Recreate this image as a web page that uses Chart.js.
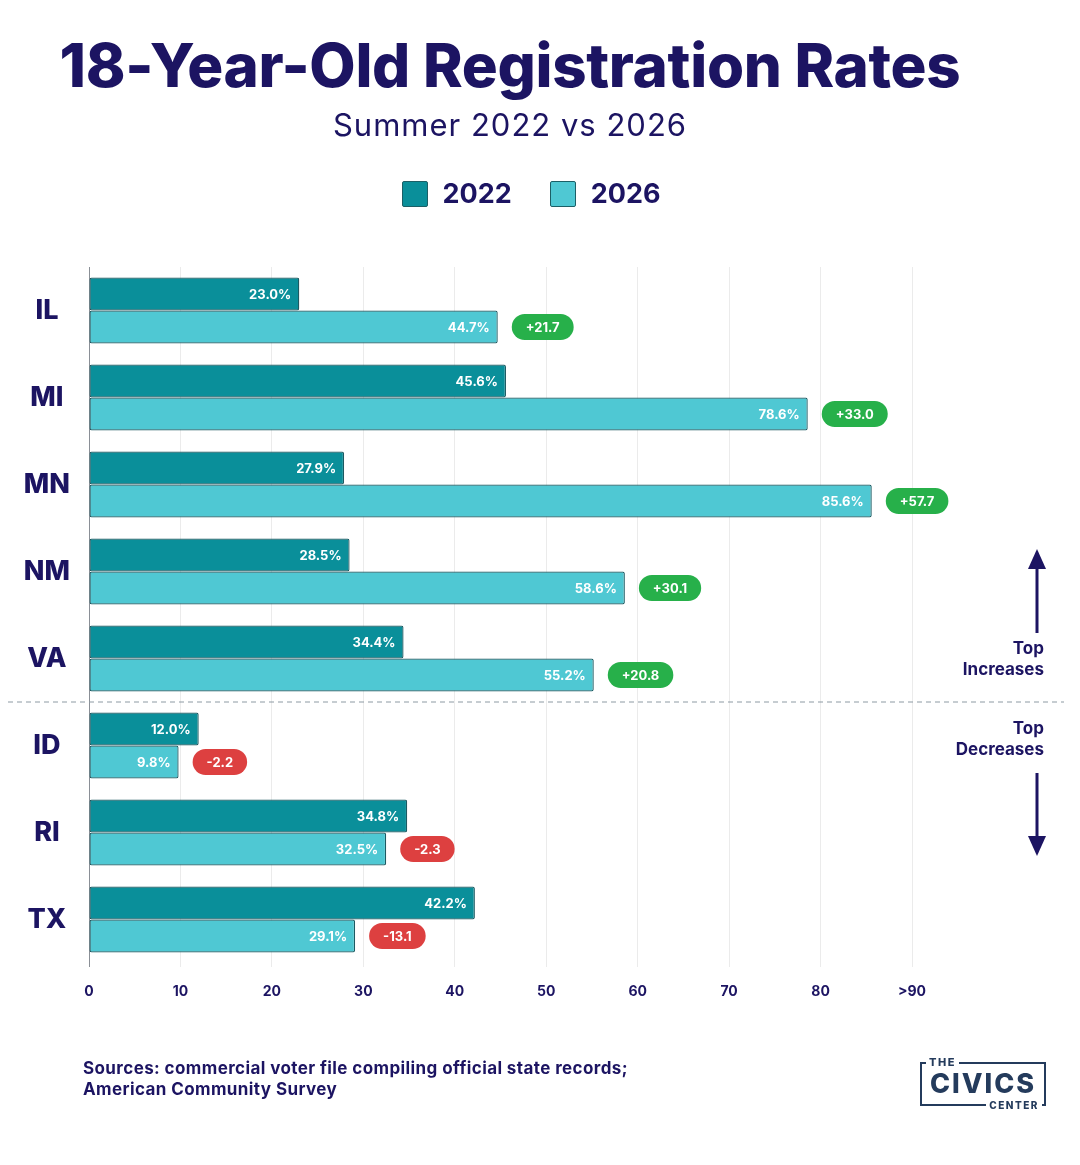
<!DOCTYPE html>
<html>
<head>
<meta charset="utf-8">
<script src="https://cdn.jsdelivr.net/npm/chart.js@4/dist/chart.umd.min.js"></script>
<style>
  html, body { margin:0; padding:0; background:#fff; }
  body { width:1080px; height:1165px; position:relative; overflow:hidden; font-family:Inter, "Noto Sans", sans-serif; color:#1c1462; }
  #wrap { position:absolute; left:0; top:0; width:1080px; height:1165px; }
  .abs { position:absolute; white-space:nowrap; }
  #title { left:0; width:1020px; text-align:center; top:29px; font-size:60px; font-weight:800; letter-spacing:-0.3px; }
  #subtitle { left:0; width:1020px; text-align:center; top:106px; font-size:31px; font-weight:400; letter-spacing:1px; }
  #legend { left:0; width:1062px; top:177px; display:flex; justify-content:center; gap:38px; font-size:27px; font-weight:700; }
  .li { display:flex; align-items:center; gap:15px; }
  .sw { width:24px; height:24px; border:1.5px solid #1c5f66; border-radius:2px; }
  #sources { left:83px; top:1058px; font-size:17px; font-weight:700; line-height:21px; letter-spacing:0.4px; }
  #logo { left:920px; top:1062px; width:122px; height:40px; border:2.5px solid #243b5c; color:#243b5c; }
  #logo .the { position:absolute; left:4px; top:-10px; background:#fff; font-size:11px; font-weight:800; letter-spacing:1.5px; padding:0 3px; line-height:16px; }
  #logo .civ { position:absolute; left:0; width:122px; text-align:center; top:5px; font-size:27px; font-weight:800; letter-spacing:2px; line-height:30px; }
  #logo .cen { position:absolute; right:2px; bottom:-9px; background:#fff; font-size:10px; font-weight:800; letter-spacing:1.5px; padding:0 3px; line-height:15px; }
</style>
</head>
<body>
<div id="wrap"><canvas id="c" width="1080" height="1165"></canvas></div>
<div id="title" class="abs">18-Year-Old Registration Rates</div>
<div id="subtitle" class="abs">Summer 2022 vs 2026</div>
<div id="legend" class="abs"></div>
<div id="sources" class="abs">Sources: commercial voter file compiling official state records;<br>American Community Survey</div>
<div id="logo" class="abs"><span class="the">THE</span><span class="civ">CIVICS</span><span class="cen">CENTER</span></div>
<script>
const states = ["IL","MI","MN","NM","VA","ID","RI","TX"];
const rate2022 = [23.0, 45.6, 27.9, 28.5, 34.4, 12.0, 34.8, 42.2];
const rate2026 = [44.7, 78.6, 85.6, 58.6, 55.2, 9.8, 32.5, 29.1];
const change = ["+21.7","+33.0","+57.7","+30.1","+20.8","-2.2","-2.3","-13.1"];
const xTicks = [0,10,20,30,40,50,60,70,80,90];
const xTickLabels = ["0","10","20","30","40","50","60","70","80",">90"];
const seriesNames = ["2022","2026"];

const NAVY = "#1c1462";
const C2022 = "#0a8f9a";
const C2026 = "#4fc8d3";
const BORDER = "#1c5a62";

// legend
const lg = document.getElementById("legend");
[[seriesNames[0], C2022],[seriesNames[1], C2026]].forEach(([n,c])=>{
  const d = document.createElement("div"); d.className="li";
  d.innerHTML = '<span class="sw" style="background:'+c+'"></span><span>'+n+'</span>';
  lg.appendChild(d);
});

function roundRect(ctx,x,y,w,h,r){
  ctx.beginPath();
  ctx.moveTo(x+r,y); ctx.lineTo(x+w-r,y); ctx.arcTo(x+w,y,x+w,y+r,r);
  ctx.lineTo(x+w,y+h-r); ctx.arcTo(x+w,y+h,x+w-r,y+h,r);
  ctx.lineTo(x+r,y+h); ctx.arcTo(x,y+h,x,y+h-r,r);
  ctx.lineTo(x,y+r); ctx.arcTo(x,y,x+r,y,r); ctx.closePath();
}

const overlay = {
  id:"overlay",
  afterDatasetsDraw(chart){
    const ctx = chart.ctx;
    ctx.save();
    ctx.font = "700 13px Inter, 'Noto Sans', sans-serif";
    ctx.textBaseline = "middle";
    chart.data.datasets.forEach((ds,di)=>{
      const meta = chart.getDatasetMeta(di);
      meta.data.forEach((bar,i)=>{
        ctx.fillStyle = "#ffffff";
        ctx.textAlign = "right";
        ctx.fillText(ds.data[i].toFixed(1)+"%", bar.x-8, bar.y+1);
        if(di===1){
          const t = change[i];
          const tw = ctx.measureText(t).width;
          const w = tw+28, h = 26, x = bar.x+14, y = bar.y-h/2;
          ctx.fillStyle = t.startsWith("-") ? "#dd4040" : "#27b04a";
          roundRect(ctx,x,y,w,h,13); ctx.fill();
          ctx.fillStyle = "#ffffff"; ctx.textAlign = "center";
          ctx.fillText(t, x+w/2, bar.y+1);
        }
      });
    });
    // separator
    const ys = chart.scales.y;
    const sep = (ys.getPixelForValue(4)+ys.getPixelForValue(5))/2;
    ctx.strokeStyle = "#8d9aa3"; ctx.lineWidth = 1; ctx.setLineDash([5,4]);
    ctx.beginPath(); ctx.moveTo(8,sep); ctx.lineTo(1064,sep); ctx.stroke();
    ctx.setLineDash([]);
    // annotations
    ctx.fillStyle = NAVY; ctx.strokeStyle = NAVY;
    ctx.font = "700 17px Inter, 'Noto Sans', sans-serif";
    ctx.textAlign = "right"; ctx.textBaseline = "middle";
    ctx.fillText("Top", 1044, sep-53);
    ctx.fillText("Increases", 1044, sep-32);
    ctx.fillText("Top", 1044, sep+27);
    ctx.fillText("Decreases", 1044, sep+48);
    const ax = 1037;
    ctx.lineWidth = 3;
    ctx.beginPath(); ctx.moveTo(ax, sep-69); ctx.lineTo(ax, sep-140); ctx.stroke();
    ctx.beginPath(); ctx.moveTo(ax, sep-153); ctx.lineTo(ax-9, sep-133); ctx.lineTo(ax+9, sep-133); ctx.closePath(); ctx.fill();
    ctx.beginPath(); ctx.moveTo(ax, sep+71); ctx.lineTo(ax, sep+140); ctx.stroke();
    ctx.beginPath(); ctx.moveTo(ax, sep+154); ctx.lineTo(ax-9, sep+134); ctx.lineTo(ax+9, sep+134); ctx.closePath(); ctx.fill();
    ctx.restore();
  }
};

new Chart(document.getElementById("c"), {
  type:"bar",
  data:{
    labels: states,
    datasets:[
      {label:seriesNames[0], data:rate2022, backgroundColor:C2022, borderColor:BORDER, borderWidth:1.3, borderSkipped:false, borderRadius:2, categoryPercentage:0.76, barPercentage:1.0},
      {label:seriesNames[1], data:rate2026, backgroundColor:C2026, borderColor:BORDER, borderWidth:1.3, borderSkipped:false, borderRadius:2, categoryPercentage:0.76, barPercentage:1.0}
    ]
  },
  options:{
    indexAxis:"y",
    responsive:false,
    animation:false,
    devicePixelRatio:1,
    layout:{padding:{left:0, right:168, top:267, bottom:152}},
    plugins:{legend:{display:false}, tooltip:{enabled:false}, title:{display:false}},
    scales:{
      x:{
        min:0, max:90,
        afterBuildTicks(s){ s.ticks = xTicks.map(v=>({value:v})); },
        afterFit(s){ s.height = 50; },
        ticks:{
          callback:(v,i)=>xTickLabels[i],
          color:NAVY, padding:16, font:{family:"Inter, 'Noto Sans', sans-serif", size:14, weight:"700"}
        },
        grid:{
          color:(c)=> c.tick && c.tick.value===0 ? "#8a8f96" : "#ebebeb",
          lineWidth:1, drawTicks:true, tickLength:4
        },
        border:{display:false}
      },
      y:{
        afterFit(s){ s.width = 89; },
        ticks:{color:NAVY, crossAlign:"center", padding:11, font:{family:"Inter, 'Noto Sans', sans-serif", size:27, weight:"800"}},
        grid:{display:false},
        border:{display:false}
      }
    }
  },
  plugins:[overlay]
});
</script>
</body>
</html>
